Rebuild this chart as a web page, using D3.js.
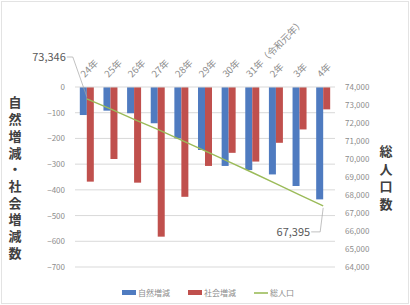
<!DOCTYPE html>
<html lang="ja">
<head>
<meta charset="UTF-8" />
<title>人口動態</title>
<style>
  body { margin: 0; background: #fff; }
  text { font-family: "Noto Sans CJK JP", "Noto Sans", sans-serif; }
</style>
</head>
<body>
<svg width="410" height="305" id="svg"></svg>
<script src="https://cdn.jsdelivr.net/npm/d3@7/dist/d3.min.js"></script>
<script>
  // 年度
  const years = ["24年", "25年", "26年", "27年", "28年", "29年", "30年", "31年（令和元年）", "2年", "3年", "4年"]
  // 自然増減
  const natural = [-109, -92, -102, -141, -200, -245, -307, -323, -340, -385, -437]
  // 社会増減
  const social = [-368, -280, -372, -582, -427, -307, -256, -290, -217, -165, -87]
  // 総人口
  const population = [73346, 72790, 72200, 71640, 71050, 70450, 69850, 69250, 68630, 68010, 67395]
  const leftTicks = [0, -100, -200, -300, -400, -500, -600, -700]
  const rightTicks = [74000, 73000, 72000, 71000, 70000, 69000, 68000, 67000, 66000, 65000, 64000]

  const svg = d3.select("#svg")
  const margin = { top: 87, left: 75, right: 75, bottom: 38 }
  const width = 410, height = 305
  const innerW = width - margin.left - margin.right
  const innerH = height - margin.top - margin.bottom

  const blue = "#4F7BC0", red = "#C0504D", green = "#9BBB59"

  svg.append("rect")
    .attr("x", 1.5).attr("y", 1.5).attr("width", width - 3).attr("height", height - 3)
    .attr("fill", "#fff").attr("stroke", "#e3e3e3")

  const g = svg.append("g").attr("transform", `translate(${margin.left},${margin.top})`)

  const x = d3.scaleBand().domain(years).range([0, innerW])
  const y = d3.scaleLinear().domain([0, -700]).range([0, innerH])
  const y2 = d3.scaleLinear().domain([74000, 64000]).range([0, innerH])
  const barW = 7

  // グリッド
  g.append("g").selectAll("line").data(leftTicks.slice(1)).join("line")
    .attr("x1", 0).attr("x2", innerW)
    .attr("y1", d => y(d)).attr("y2", d => y(d))
    .attr("stroke", "#d9d9d9")

  // 左軸
  const axL = g.append("g").call(d3.axisLeft(y).tickValues(leftTicks).tickSize(0).tickPadding(10))
  axL.select(".domain").remove()
  axL.selectAll("text").attr("fill", "#8c8c8c").style("font-size", "8px")

  // 右軸
  const axR = g.append("g").attr("transform", `translate(${innerW},0)`)
    .call(d3.axisRight(y2).tickValues(rightTicks).tickSize(0).tickPadding(10).tickFormat(d3.format(",")))
  axR.select(".domain").remove()
  axR.selectAll("text").attr("fill", "#8c8c8c").style("font-size", "8px")

  // 棒
  g.append("g").selectAll("rect").data(natural).join("rect")
    .attr("x", (d, i) => x(years[i]) + x.bandwidth() / 2 - barW)
    .attr("y", y(0)).attr("width", barW).attr("height", d => y(d) - y(0))
    .attr("fill", blue)
  g.append("g").selectAll("rect").data(social).join("rect")
    .attr("x", (d, i) => x(years[i]) + x.bandwidth() / 2)
    .attr("y", y(0)).attr("width", barW).attr("height", d => y(d) - y(0))
    .attr("fill", red)

  // 0 の線
  g.append("line").attr("x1", 0).attr("x2", innerW).attr("y1", y(0)).attr("y2", y(0))
    .attr("stroke", "#d9d9d9")

  // 総人口
  const line = d3.line().x((d, i) => x(years[i]) + x.bandwidth() / 2).y(d => y2(d))
  g.append("path").datum(population).attr("d", line)
    .attr("fill", "none").attr("stroke", green).attr("stroke-width", 1.4)

  // 年ラベル（斜め）
  g.append("g").selectAll("text").data(years).join("text")
    .attr("transform", d => `translate(${x(d) + x.bandwidth() / 2 - 2},-9) rotate(-45)`)
    .attr("fill", "#8c8c8c").style("font-size", "9.5px")
    .text(d => d)

  // データラベル
  const p0 = [x(years[0]) + x.bandwidth() / 2, y2(population[0])]
  const pN = [x(years[10]) + x.bandwidth() / 2, y2(population[10])]
  g.append("path")
    .attr("d", `M${p0[0] - 20},${-30}L${p0[0] - 14},${-30}L${p0[0]},${p0[1] - 2}`)
    .attr("fill", "none").attr("stroke", "#a6a6a6").attr("stroke-width", 0.7)
  g.append("text").attr("x", p0[0] - 21).attr("y", -26).attr("text-anchor", "end")
    .attr("fill", "#595959").style("font-size", "11px").text(d3.format(",")(population[0]))
  g.append("path")
    .attr("d", `M${pN[0] - 12},${pN[1] + 26}L${pN[0] - 3},${pN[1] + 26}L${pN[0]},${pN[1] + 2}`)
    .attr("fill", "none").attr("stroke", "#a6a6a6").attr("stroke-width", 0.7)
  g.append("text").attr("x", pN[0] - 13).attr("y", pN[1] + 30).attr("text-anchor", "end")
    .attr("fill", "#595959").style("font-size", "11px").text(d3.format(",")(population[10]))

  // 軸タイトル（縦書き）
  svg.append("text")
    .attr("x", 15).attr("y", 96)
    .attr("writing-mode", "vertical-rl")
    .style("letter-spacing", "3.7px")
    .attr("fill", "#404040").style("font-size", "13px").style("font-weight", "bold")
    .text("自然増減・社会増減数")
  svg.append("text")
    .attr("x", 386).attr("y", 145)
    .attr("writing-mode", "vertical-rl")
    .style("letter-spacing", "4.5px")
    .attr("fill", "#404040").style("font-size", "13px").style("font-weight", "bold")
    .text("総人口数")

  // 凡例
  const legend = [
    { label: "自然増減", color: blue, type: "rect", x: 122 },
    { label: "社会増減", color: red, type: "rect", x: 188 },
    { label: "総人口", color: green, type: "line", x: 254 }
  ]
  const lg = svg.append("g").attr("transform", "translate(0,293)")
  lg.selectAll("g").data(legend).join("g")
    .attr("transform", d => `translate(${d.x},0)`)
    .each(function (d) {
      const s = d3.select(this)
      if (d.type === "rect") s.append("rect").attr("x", 0).attr("y", -3).attr("width", 14).attr("height", 5).attr("fill", d.color)
      else s.append("line").attr("x1", 0).attr("x2", 14).attr("y1", 0).attr("y2", 0).attr("stroke", d.color).attr("stroke-width", 1.6)
      s.append("text").attr("x", 16).attr("y", 3).attr("fill", "#8c8c8c").style("font-size", "8px").text(d.label)
    })
</script>
</body>
</html>
